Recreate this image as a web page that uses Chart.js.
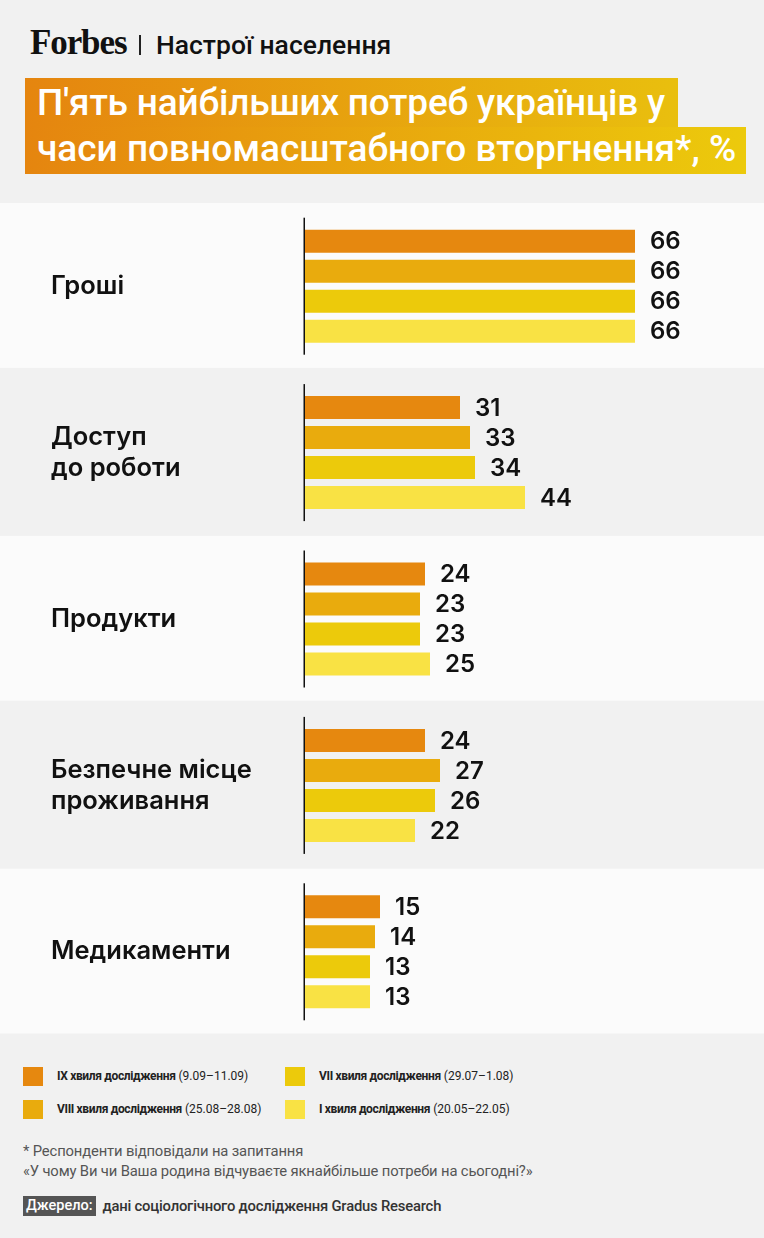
<!DOCTYPE html>
<html lang="uk">
<head>
<meta charset="utf-8">
<title>П'ять найбільших потреб українців</title>
<script src="https://cdn.jsdelivr.net/npm/chart.js@4/dist/chart.umd.min.js"></script>
<style>
  html, body { margin: 0; padding: 0; }
  body {
    width: 764px; height: 1238px; position: relative; overflow: hidden;
    background: #f1f1f1; font-family: Roboto, "Noto Sans", sans-serif; color: #111;
  }
  .brand { position: absolute; left: 30px; top: 23px; height: 40px; display: flex; align-items: center; white-space: nowrap; }
  .logo { font-family: "Liberation Serif", "DejaVu Serif", serif; font-weight: 700; font-size: 35px; letter-spacing: -1.1px; color: #111; }
  .sep { width: 1.5px; height: 20px; background: #222; margin: 3px 15px 0 13px; }
  .rubric { font-size: 26.5px; font-weight: 500; letter-spacing: 0px; color: #111; margin-top: 3px; }
  .title-line {
    position: absolute; left: 25px; color: #fff; font-weight: 500; font-size: 37px;
    letter-spacing: -0.2px; white-space: nowrap; box-sizing: border-box; padding-left: 12px;
  }
  #t1 { top: 78px; width: 653px; height: 49px; line-height: 50px; background: linear-gradient(90deg, #e5850f, #e9bf0e); }
  #t2 { top: 127px; width: 721px; height: 47px; line-height: 44px; letter-spacing: 0px; background: linear-gradient(90deg, #e5850f, #ecca0c); }
  #chartBox { position: absolute; left: 0; top: 203px; width: 764px; height: 832px; }
  .legend-item { position: absolute; height: 20px; display: flex; align-items: center; white-space: nowrap; font-size: 12px; color: #222; }
  .legend-item .sw { width: 20px; height: 19px; margin-right: 14px; }
  .legend-item b { font-weight: 700; letter-spacing: -0.35px; margin-right: 3px; }
  .note { position: absolute; left: 23px; font-size: 14.8px; color: #555; white-space: nowrap; letter-spacing: -0.15px; }
  .source { position: absolute; left: 23px; top: 1196px; display: flex; align-items: center; white-space: nowrap; }
  .source .tag { background: #555; color: #fff; font-size: 14.5px; font-weight: 500; padding: 0 3px; height: 20px; line-height: 20px; }
  .source .txt { font-size: 14.8px; font-weight: 500; color: #333; margin-left: 7px; letter-spacing: -0.2px; }
</style>
</head>
<body>
  <div class="brand"><span class="logo">Forbes</span><span class="sep"></span><span class="rubric">Настрої населення</span></div>
  <div class="title-line" id="t1">П'ять найбільших потреб українців у</div>
  <div class="title-line" id="t2">часи повномасштабного вторгнення*, %</div>

  <div id="chartBox"><canvas id="needs-chart"></canvas></div>

  <div id="legend"></div>

  <div class="note" style="top:1142px">* Респонденти відповідали на запитання</div>
  <div class="note" style="top:1162px">«У чому Ви чи Ваша родина відчуваєте якнайбільше потреби на сьогодні?»</div>
  <div class="source"><span class="tag">Джерело:</span><span class="txt">дані соціологічного дослідження Gradus Research</span></div>

<script>
(function() {
  'use strict';

  // Categories (multi-line labels as arrays)
  var categories = [
    ['Гроші'],
    ['Доступ', 'до роботи'],
    ['Продукти'],
    ['Безпечне місце', 'проживання'],
    ['Медикаменти']
  ];

  // Survey waves, in drawing order (top bar first)
  var waveNames = ['IX хвиля дослідження', 'VIII хвиля дослідження', 'VII хвиля дослідження', 'I хвиля дослідження'];
  var waveDates = ['(9.09–11.09)', '(25.08–28.08)', '(29.07–1.08)', '(20.05–22.05)'];
  var waveColors = ['#e6880f', '#e9ab0d', '#ecca0b', '#f9e244'];

  // Values, %
  var wave9 = [66, 31, 24, 24, 15];
  var wave8 = [66, 33, 23, 27, 14];
  var wave7 = [66, 34, 23, 26, 13];
  var wave1 = [66, 44, 25, 22, 13];
  var waveValues = [wave9, wave8, wave7, wave1];

  // Legend is laid out column by column: IX, VIII | VII, I
  function renderLegend() {
    var box = document.getElementById('legend');
    var html = '';
    waveNames.forEach(function(name, i) {
      var left = i < 2 ? 23 : 285;
      var top = i % 2 === 0 ? 1066 : 1099;
      html += '<div class="legend-item" style="left:' + left + 'px;top:' + top + 'px">' +
        '<span class="sw" style="background:' + waveColors[i] + '"></span>' +
        '<b>' + name + '</b>' + waveDates[i] +
      '</div>';
    });
    box.innerHTML = html;
  }

  // Alternating white bands behind each category (drawn before the axes)
  var bandsPlugin = {
    id: 'bands',
    beforeDraw: function(chart) {
      var ctx = chart.ctx;
      var y = chart.scales.y;
      var step = (y.bottom - y.top) / categories.length;
      ctx.save();
      ctx.fillStyle = '#fbfbfb';
      categories.forEach(function(c, i) {
        if (i % 2 === 0) {
          var cy = y.getPixelForValue(i);
          ctx.fillRect(0, cy - step / 2, chart.width, step - 1.5);
        }
      });
      ctx.restore();
    },
    // short zero line inside each band
    beforeDatasetsDraw: function(chart) {
      var ctx = chart.ctx;
      var y = chart.scales.y;
      var x0 = chart.scales.x.getPixelForValue(0);
      ctx.save();
      ctx.fillStyle = '#111';
      categories.forEach(function(c, i) {
        ctx.fillRect(x0 - 1.5, y.getPixelForValue(i) - 68.5, 1.5, 137);
      });
      ctx.restore();
    }
  };

  // Value labels to the right of each bar
  var valueLabels = {
    id: 'valueLabels',
    afterDatasetsDraw: function(chart) {
      var ctx = chart.ctx;
      ctx.save();
      ctx.font = '600 24px Inter, Roboto, sans-serif';
      ctx.fillStyle = '#111';
      ctx.textAlign = 'left';
      ctx.textBaseline = 'middle';
      chart.data.datasets.forEach(function(ds, di) {
        chart.getDatasetMeta(di).data.forEach(function(bar, i) {
          ctx.fillText(String(ds.data[i]), bar.x + 15, bar.y + 1);
        });
      });
      ctx.restore();
    }
  };

  function createChart() {
    var ctx = document.getElementById('needs-chart').getContext('2d');
    var datasets = waveValues.map(function(vals, i) {
      return {
        label: waveNames[i],
        data: vals,
        backgroundColor: waveColors[i],
        borderWidth: 0,
        categoryPercentage: 0.721,
        barPercentage: 0.767
      };
    });

    new Chart(ctx, {
      type: 'bar',
      data: { labels: categories, datasets: datasets },
      options: {
        indexAxis: 'y',
        responsive: true,
        maintainAspectRatio: false,
        animation: false,
        layout: { padding: { left: 51, right: 9, top: 0, bottom: 0 } },
        plugins: {
          legend: { display: false },
          tooltip: { enabled: false }
        },
        scales: {
          x: {
            min: 0,
            max: 90,
            display: false,
            grid: { display: false }
          },
          y: {
            grid: { display: false },
            border: { display: false },
            afterFit: function(scale) {
              scale.width = 254;
              scale.paddingTop = 0;
              scale.paddingBottom = 0;
            },
            ticks: {
              autoSkip: false,
              crossAlign: 'far',
              padding: 0,
              color: '#111',
              font: { family: 'Inter, Roboto, sans-serif', size: 25.5, weight: '600', lineHeight: 1.22 }
            }
          }
        }
      },
      plugins: [bandsPlugin, valueLabels]
    });
  }

  function init() {
    renderLegend();
    createChart();
  }

  if (document.readyState === 'loading') {
    document.addEventListener('DOMContentLoaded', init);
  } else {
    init();
  }
})();
</script>
</body>
</html>
